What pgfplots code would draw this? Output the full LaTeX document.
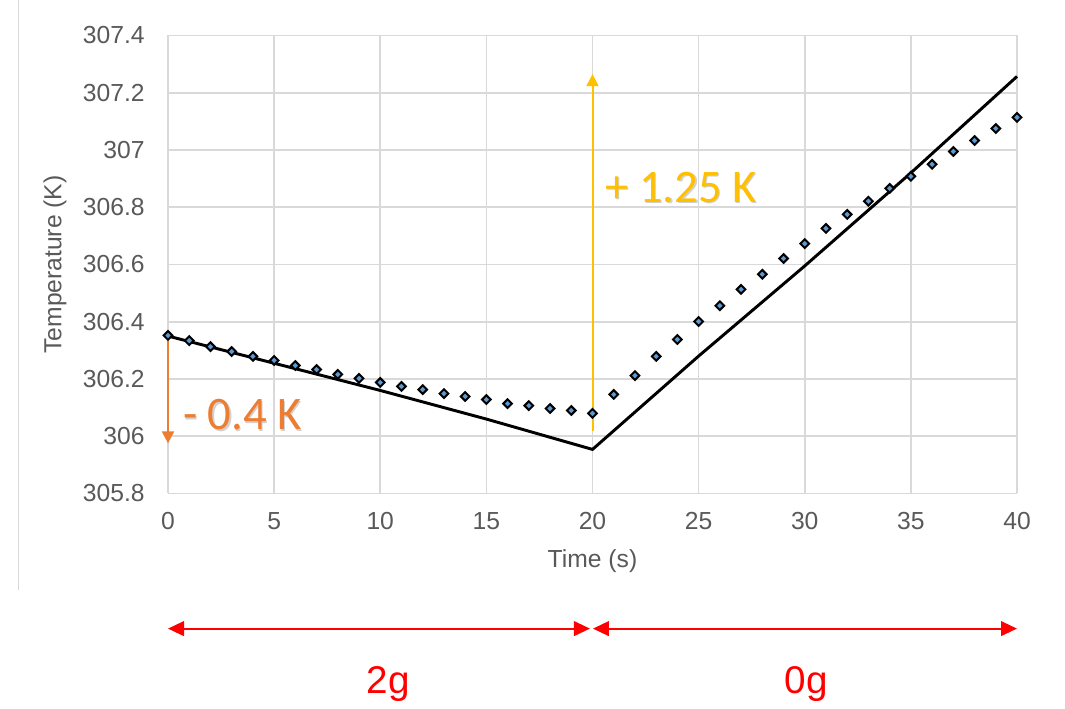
\documentclass[border=0pt]{standalone}
\usepackage{pgfplots}
\pgfplotsset{compat=1.18}
\usepackage{fontspec}
\setmainfont{Liberation Sans}
\newfontfamily\calib{Carlito}
\usetikzlibrary{arrows.meta}
\definecolor{tickgray}{RGB}{89,89,89}
\definecolor{gridgray}{RGB}{217,217,217}
\definecolor{korange}{RGB}{237,125,49}
\definecolor{kyellow}{RGB}{255,192,0}
\definecolor{kblue}{RGB}{91,155,213}
\definecolor{kred}{RGB}{255,0,0}
\begin{document}
\begin{tikzpicture}
\path (0,0) rectangle (798.75pt,531pt);
\draw[gridgray, line width=0.75pt] (13.5pt,531pt) -- (13.5pt,88.5pt);
\begin{axis}[
  at={(126pt,161.25pt)}, anchor=south west,
  scale only axis, width=636.75pt, height=343.5pt,
  xmin=0, xmax=40, ymin=305.8, ymax=307.4,
  xtick={0,5,10,15,20,25,30,35,40},
  ytick={305.8,306,306.2,306.4,306.6,306.8,307,307.2,307.4},
  grid=major, major grid style={gridgray, line width=1.3pt},
  axis line style={draw=none}, major tick length=0pt,
  /pgf/number format/assume math mode=true,
  tick label style={font=\fontsize{18.5}{22}\selectfont, color=tickgray},
  yticklabel style={/pgf/number format/fixed, /pgf/number format/precision=1, xshift=-14pt},
  xticklabel style={yshift=-10.5pt},
  xlabel={Time (s)}, ylabel={Temperature (K)},
  every axis x label/.style={at={(axis description cs:0.5,-0.147)}, anchor=center,
    font=\fontsize{18.5}{22}\selectfont, color=tickgray},
  every axis y label/.style={at={(axis description cs:-0.133,0.5)}, rotate=90, anchor=center,
    font=\fontsize{18.5}{22}\selectfont, color=tickgray},
  clip=false,
]
\addplot[black, line width=2.2pt] coordinates {
  (0,306.350) (5,306.255) (10,306.160) (15,306.060) (20,305.954)
  (25,306.280) (30,306.595) (35,306.920) (40,307.257)
};
\addplot[only marks, mark=square*, mark size=2.3pt,
  mark options={rotate=45, draw=black, fill=kblue, line width=1.5pt}] coordinates {
  (0,306.352) (1,306.334) (2,306.313) (3,306.296) (4,306.279)
  (5,306.265) (6,306.247) (7,306.233) (8,306.216) (9,306.202)
  (10,306.188) (11,306.174) (12,306.163) (13,306.149) (14,306.139)
  (15,306.128) (16,306.114) (17,306.107) (18,306.097) (19,306.090)
  (20,306.080) (21,306.146) (22,306.212) (23,306.279) (24,306.338)
  (25,306.401) (26,306.456) (27,306.513) (28,306.566) (29,306.621)
  (30,306.673) (31,306.726) (32,306.775) (33,306.821) (34,306.866)
  (35,306.908) (36,306.950) (37,306.995) (38,307.033) (39,307.075)
  (40,307.114)
};
% annotations
\draw[korange, line width=1.5pt, -{Triangle[length=9pt,width=9pt]}] (axis cs:0,306.340) -- (axis cs:0,305.975);
\node[gray!60, opacity=0.6, anchor=west, inner sep=0pt, font=\calib\fontsize{35}{40}\selectfont] at ([xshift=1pt,yshift=-1pt]axis cs:0.7,306.075) {- 0.4 K};
\node[korange, anchor=west, inner sep=0pt, font=\calib\fontsize{35}{40}\selectfont] at (axis cs:0.7,306.075) {- 0.4 K};
\draw[kyellow, line width=1.5pt, -{Triangle[length=9pt,width=9pt]}] (axis cs:20,306.02) -- (axis cs:20,307.265);
\node[gray!60, opacity=0.6, anchor=west, inner sep=0pt, font=\calib\fontsize{35}{40}\selectfont] at ([xshift=1pt,yshift=-1pt]axis cs:20.6,306.87) {+ 1.25 K};
\node[kyellow, anchor=west, inner sep=0pt, font=\calib\fontsize{35}{40}\selectfont] at (axis cs:20.6,306.87) {+ 1.25 K};
% phase arrows
\draw[kred, line width=1.5pt, {Triangle[length=12pt,width=11pt]}-{Triangle[length=12pt,width=11pt]}] (axis cs:0,305.328) -- (axis cs:19.88,305.328);
\draw[kred, line width=1.5pt, {Triangle[length=12pt,width=11pt]}-{Triangle[length=12pt,width=11pt]}] (axis cs:20.02,305.328) -- (axis cs:40,305.328);
\node[kred, font=\fontsize{29}{34}\selectfont] at (axis cs:10.37,305.136) {2g};
\node[kred, font=\fontsize{29}{34}\selectfont] at (axis cs:30.06,305.136) {0g};
\end{axis}
\end{tikzpicture}
\end{document}
